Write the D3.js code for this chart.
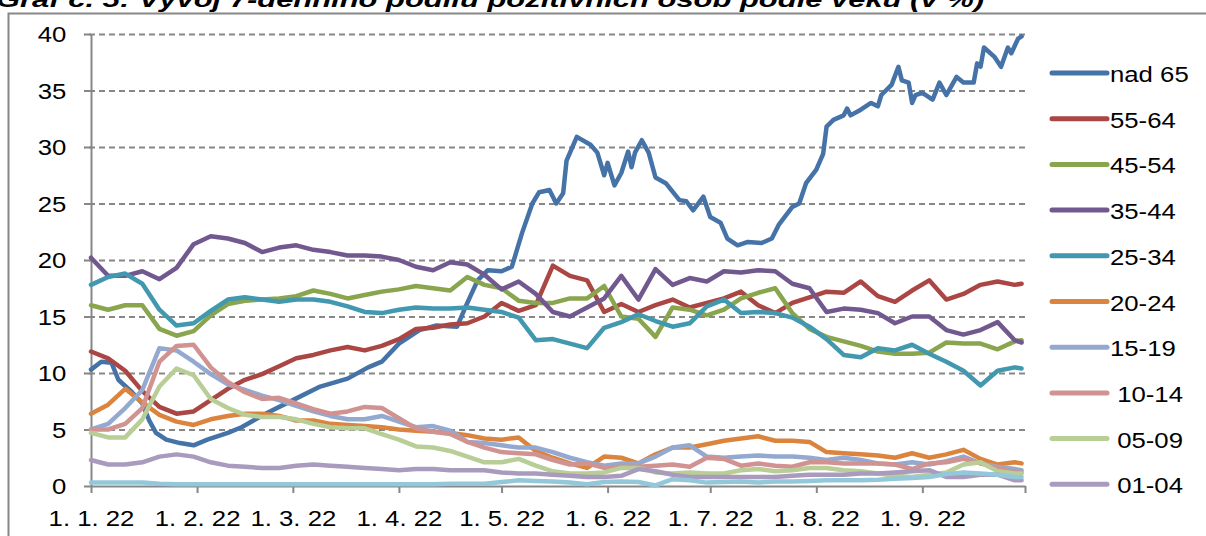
<!DOCTYPE html>
<html>
<head>
<meta charset="utf-8">
<script src="https://cdn.jsdelivr.net/npm/d3@7"></script>
<style>
    body { margin: 0; background: #ffffff; }
    svg { display: block; font-family: "Liberation Sans", Arial, sans-serif; }
</style>
</head>
<body>
<div id="chart"></div>
<script>
// day offsets from 1. 1. 2022 (one point every 5 days)
var days = [ 0, 5, 10, 15, 20, 25, 30, 35, 40, 45,
             50, 55, 60, 65, 70, 75, 80, 85, 90, 95,
             100, 105, 110, 115, 120, 125, 130, 135, 140, 145,
             150, 155, 160, 165, 170, 175, 180, 185, 190, 195,
             200, 205, 210, 215, 220, 225, 230, 235, 240, 245,
             250, 255, 260, 265, 270, 272 ];

// the "nad 65" line is read more densely, it has its own day offsets
var nad65Days = [ 0, 3, 6, 8, 12, 15, 17, 19, 22, 26,
                  30, 34, 40, 44, 51, 59, 67, 75, 81, 85,
                  90, 96, 101, 107, 110, 113, 116, 120, 123, 126,
                  129, 131, 134, 136, 138, 139, 142, 146, 148, 150,
                  151, 153, 155, 157, 158, 159, 161, 163, 165, 168,
                  172, 174, 176, 179, 181, 184, 186, 189, 192, 196,
                  199, 201, 205, 207, 209, 212, 214, 215, 217, 220,
                  221, 222, 225, 228, 230, 231, 234, 236, 237, 239,
                  240, 241, 243, 246, 248, 250, 253, 255, 258, 259,
                  260, 261, 264, 266, 268, 269, 271, 272 ];

// 7-day share of positive persons by age group (%)
var nad65 = [ 10.3, 11.0, 10.9, 9.4, 8.3, 7.3, 5.8, 4.7, 4.1, 3.8,
              3.6, 4.1, 4.7, 5.2, 6.4, 7.6, 8.8, 9.5, 10.5, 11.0,
              12.6, 13.8, 14.2, 14.1, 16.2, 18.2, 19.1, 19.0, 19.4, 22.4,
              25.0, 26.0, 26.2, 25.0, 25.9, 28.8, 30.9, 30.2, 29.5, 27.5,
              28.6, 26.6, 27.7, 29.6, 28.2, 29.5, 30.6, 29.5, 27.3, 26.8,
              25.3, 25.2, 24.4, 25.6, 23.8, 23.3, 21.9, 21.3, 21.6, 21.5,
              21.9, 23.1, 24.7, 25.0, 26.8, 28.0, 29.4, 31.8, 32.4, 32.8,
              33.4, 32.8, 33.3, 33.9, 33.6, 34.6, 35.5, 37.1, 35.9, 35.7,
              33.9, 34.6, 34.8, 34.2, 35.7, 34.6, 36.2, 35.7, 35.7, 37.4,
              37.1, 38.8, 38.0, 37.1, 38.8, 38.3, 39.6, 39.8 ];
var a5564 = [ 11.9, 11.3, 10.2, 8.4, 7.0, 6.4, 6.6, 7.6, 8.6, 9.4,
              9.9, 10.6, 11.3, 11.6, 12.0, 12.3, 12.0, 12.4, 13.0, 13.9,
              14.0, 14.3, 14.4, 15.0, 16.2, 15.5, 16.0, 19.5, 18.6, 18.2,
              15.4, 16.1, 15.4, 16.0, 16.5, 15.8, 16.2, 16.6, 17.2, 16.0,
              15.3, 16.2, 16.7, 17.2, 17.1, 18.1, 16.8, 16.3, 17.3, 18.2,
              16.5, 17.0, 17.8, 18.1, 17.8, 17.9 ];
var a4554 = [ 16.0, 15.6, 16.0, 16.0, 13.9, 13.3, 13.7, 15.1, 16.1, 16.4,
              16.5, 16.6, 16.8, 17.3, 17.0, 16.6, 16.9, 17.2, 17.4, 17.7,
              17.5, 17.3, 18.5, 17.8, 17.5, 16.4, 16.2, 16.2, 16.6, 16.6,
              17.7, 15.0, 14.8, 13.2, 15.8, 15.6, 15.1, 15.6, 16.6, 17.1,
              17.5, 15.3, 13.9, 13.2, 12.8, 12.4, 11.9, 11.7, 11.7, 11.8,
              12.7, 12.6, 12.6, 12.1, 12.8, 12.9 ];
var a3544 = [ 20.2, 18.6, 18.6, 19.0, 18.3, 19.3, 21.4, 22.1, 21.9, 21.5,
              20.7, 21.1, 21.3, 20.9, 20.7, 20.4, 20.4, 20.3, 20.0, 19.4,
              19.1, 19.8, 19.6, 18.7, 17.4, 18.1, 17.0, 15.4, 15.0, 15.8,
              16.6, 18.6, 16.5, 19.2, 17.8, 18.4, 18.1, 19.0, 18.9, 19.1,
              19.0, 17.9, 17.5, 15.4, 15.7, 15.6, 15.3, 14.4, 15.0, 15.0,
              13.8, 13.4, 13.8, 14.5, 12.9, 12.7 ];
var a2534 = [ 17.8, 18.5, 18.8, 17.9, 15.6, 14.2, 14.4, 15.5, 16.5, 16.7,
              16.5, 16.3, 16.5, 16.5, 16.3, 15.9, 15.4, 15.3, 15.6, 15.8,
              15.7, 15.7, 15.8, 15.6, 15.4, 14.9, 12.9, 13.0, 12.6, 12.2,
              14.0, 14.5, 15.2, 14.6, 14.1, 14.4, 15.9, 16.5, 15.3, 15.4,
              15.3, 14.9, 14.1, 13.0, 11.6, 11.4, 12.2, 12.0, 12.5, 11.7,
              11.0, 10.2, 8.9, 10.2, 10.5, 10.4 ];
var a2024 = [ 6.4, 7.2, 8.6, 7.4, 6.3, 5.7, 5.4, 5.9, 6.2, 6.4,
              6.4, 6.2, 5.8, 5.8, 5.5, 5.4, 5.3, 5.2, 5.0, 4.9,
              4.8, 4.7, 4.5, 4.2, 4.1, 4.3, 3.1, 2.5, 2.0, 1.6,
              2.6, 2.5, 2.0, 2.8, 3.4, 3.4, 3.7, 4.0, 4.2, 4.4,
              4.0, 4.0, 3.9, 3.0, 2.9, 2.8, 2.7, 2.5, 2.9, 2.5,
              2.8, 3.2, 2.4, 1.9, 2.1, 2.0 ];
var a1519 = [ 5.0, 5.5, 6.9, 8.5, 12.2, 12.0, 11.0, 9.9, 9.0, 8.5,
              8.0, 7.6, 7.1, 6.6, 6.2, 5.9, 5.9, 6.2, 5.7, 5.2,
              5.3, 4.9, 3.9, 3.8, 3.6, 3.4, 3.4, 3.0, 2.5, 2.1,
              1.8, 2.0, 2.0, 2.6, 3.4, 3.6, 2.6, 2.5, 2.6, 2.7,
              2.6, 2.6, 2.5, 2.3, 2.5, 2.3, 2.0, 1.9, 2.1, 1.9,
              2.2, 2.6, 2.0, 1.7, 1.5, 1.4 ];
var a1014 = [ 5.0, 5.0, 5.5, 6.9, 11.0, 12.4, 12.5, 10.5, 9.2, 8.3,
              7.7, 7.8, 7.3, 6.8, 6.4, 6.6, 7.0, 6.9, 6.0, 5.1,
              4.8, 4.6, 3.9, 3.4, 3.0, 2.9, 2.8, 2.3, 1.9, 2.0,
              1.6, 1.7, 1.7, 1.8, 1.9, 1.7, 2.5, 2.4, 1.8, 2.0,
              1.8, 1.7, 2.1, 2.1, 2.0, 2.0, 2.0, 1.9, 1.5, 2.0,
              2.1, 2.4, 2.0, 1.6, 1.2, 1.2 ];
var a0509 = [ 4.7, 4.3, 4.3, 5.9, 8.8, 10.4, 9.8, 7.7, 6.9, 6.3,
              6.1, 6.1, 5.9, 5.5, 5.2, 5.1, 5.1, 4.6, 4.1, 3.5,
              3.4, 3.1, 2.6, 2.1, 2.1, 2.4, 1.8, 1.3, 1.1, 1.1,
              1.2, 1.6, 1.6, 1.2, 1.1, 1.2, 1.1, 1.1, 1.4, 1.5,
              1.3, 1.4, 1.6, 1.6, 1.4, 1.3, 1.1, 0.9, 0.8, 1.0,
              1.2, 1.9, 2.1, 1.3, 1.1, 1.1 ];
var a0104 = [ 2.3, 1.9, 1.9, 2.1, 2.6, 2.8, 2.6, 2.1, 1.8, 1.7,
              1.6, 1.6, 1.8, 1.9, 1.8, 1.7, 1.6, 1.5, 1.4, 1.5,
              1.5, 1.4, 1.4, 1.4, 1.2, 1.1, 1.1, 1.0, 0.9, 0.8,
              0.8, 0.9, 1.5, 1.3, 1.0, 0.8, 0.8, 0.8, 0.8, 0.8,
              0.8, 0.9, 1.0, 1.0, 1.0, 1.1, 1.1, 1.2, 1.3, 1.4,
              0.8, 0.8, 1.0, 1.0, 0.5, 0.5 ];
// youngest group - its legend entry falls below the visible picture
var a00 = [ 0.3, 0.3, 0.3, 0.3, 0.2, 0.15, 0.15, 0.15, 0.15, 0.15,
            0.15, 0.15, 0.15, 0.15, 0.15, 0.15, 0.15, 0.15, 0.15, 0.15,
            0.15, 0.2, 0.2, 0.2, 0.35, 0.5, 0.45, 0.4, 0.3, 0.15,
            0.35, 0.4, 0.35, 0.05, 0.6, 0.5, 0.3, 0.35, 0.4, 0.3,
            0.4, 0.4, 0.45, 0.5, 0.5, 0.5, 0.55, 0.65, 0.7, 0.8,
            1.05, 1.2, 1.1, 1.0, 0.8, 0.8 ];

var seriesNames = [ "nad 65", "55-64", "45-54", "35-44", "25-34", "20-24", "15-19", " 10-14", " 05-09", " 01-04", "00" ];
var seriesValues = [ nad65, a5564, a4554, a3544, a2534, a2024, a1519, a1014, a0509, a0104, a00 ];
var seriesDays = [ nad65Days, days, days, days, days, days, days, days, days, days, days ];
var seriesColors = [ "#4572A7", "#AA4643", "#89A54E", "#71588F", "#4198AF", "#DB843D",
                     "#93A9CF", "#D19392", "#B9CD96", "#A99BBD", "#92C8D9" ];
var legendCount = 10;

var yTicks = [ 0, 5, 10, 15, 20, 25, 30, 35, 40 ];
var xTickLabels = [ "1. 1. 22", "1. 2. 22", "1. 3. 22", "1. 4. 22", "1. 5. 22",
                    "1. 6. 22", "1. 7. 22", "1. 8. 22", "1. 9. 22", "" ];
var titleText = "Graf č. 5: Vývoj 7-denního podílu pozitivních osob podle věku (v %)";

// dimensions
var W = 1206, H = 536;
var margin = { top: 34, left: 91 },
    width = 934,
    height = 452;
var stretch = 1.17;   // text in the picture is a little wider than Arial

var start = new Date( 2022, 0, 1 );
var toDate = function( d ) { return d3.timeDay.offset( start, d ); };
var tickDates = d3.timeMonth.range( start, new Date( 2022, 9, 2 ) );

var x = d3.scaleTime().domain( [ start, new Date( 2022, 9, 1 ) ] ).range( [ 0, width ] );
var y = d3.scaleLinear().domain( [ 0, 40 ] ).range( [ height, 0 ] );

var svg = d3.select( "#chart" ).append( "svg" )
    .attr( "width", W )
    .attr( "height", H );

// title, only its lower part is inside the picture (as in the original)
svg.append( "text" )
    .attr( "x", -4 )
    .attr( "y", 7 )
    .attr( "textLength", 988 )
    .attr( "lengthAdjust", "spacingAndGlyphs" )
    .style( "font-size", "22px" )
    .style( "font-weight", "bold" )
    .style( "font-style", "italic" )
    .style( "fill", "#000" )
    .text( titleText );

// outer frame
svg.append( "path" )
    .attr( "d", "M8.5," + H + "V13.5H" + W )
    .attr( "fill", "none" )
    .attr( "stroke", "#878787" )
    .attr( "stroke-width", 2 );

var g = svg.append( "g" )
    .attr( "transform", "translate(" + margin.left + "," + margin.top + ")" );

// dashed gridlines
var grid = g.append( "g" )
    .attr( "transform", "translate(" + width + ",0)" )
    .call( d3.axisLeft( y ).tickValues( yTicks.slice( 1 ) ).tickSize( width + 7 ).tickFormat( "" ) );
grid.select( ".domain" ).remove();
grid.selectAll( "line" )
    .attr( "stroke", "#878787" )
    .attr( "stroke-width", 2 )
    .attr( "stroke-dasharray", "6,4" );

// y axis
var yAxis = g.append( "g" )
    .call( d3.axisLeft( y ).tickValues( yTicks ).tickSize( 7 ).tickSizeOuter( 0 ) );
yAxis.select( ".domain" ).attr( "stroke", "#878787" ).attr( "stroke-width", 2 );
yAxis.selectAll( "line" ).attr( "stroke", "#878787" ).attr( "stroke-width", 2 );
yAxis.selectAll( "text" )
    .attr( "x", -21 )
    .attr( "dy", "0.35em" )
    .attr( "transform", "scale(" + stretch + ",1)" )
    .style( "font-size", "22px" )
    .style( "fill", "#000" );

// x axis
var xAxis = g.append( "g" )
    .attr( "transform", "translate(0," + height + ")" )
    .call( d3.axisBottom( x ).tickValues( tickDates ).tickSize( 7 ).tickSizeOuter( 0 )
        .tickFormat( function( d, i ) { return xTickLabels[ i ]; } ) );
xAxis.select( ".domain" ).attr( "stroke", "#878787" ).attr( "stroke-width", 2 );
xAxis.selectAll( "line" ).attr( "stroke", "#878787" ).attr( "stroke-width", 2 );
xAxis.selectAll( "text" )
    .attr( "y", 24 )
    .attr( "dy", "0.71em" )
    .attr( "transform", "scale(" + stretch + ",1)" )
    .style( "font-size", "22px" )
    .style( "fill", "#000" );

// the lines
g.selectAll( ".series" )
    .data( seriesValues )
    .enter().append( "path" )
    .attr( "class", "series" )
    .attr( "d", function( vals, s ) {
        return d3.line()
            .x( function( d, i ) { return x( toDate( seriesDays[ s ][ i ] ) ); } )
            .y( function( d ) { return y( d ); } )( vals );
    })
    .attr( "fill", "none" )
    .attr( "stroke", function( d, i ) { return seriesColors[ i ]; } )
    .attr( "stroke-width", 4.5 )
    .attr( "stroke-linejoin", "round" )
    .attr( "stroke-linecap", "round" );

// legend
var legend = svg.append( "g" );
var item = legend.selectAll( ".item" )
    .data( seriesNames.slice( 0, legendCount ) )
    .enter().append( "g" )
    .attr( "class", "item" )
    .attr( "transform", function( d, i ) { return "translate(1052," + ( 73 + i * 45.7 ) + ")"; } );

item.append( "line" )
    .attr( "x1", 0 ).attr( "x2", 55 )
    .attr( "stroke", function( d, i ) { return seriesColors[ i ]; } )
    .attr( "stroke-width", 5 )
    .attr( "stroke-linecap", "round" );

item.append( "text" )
    .attr( "transform", "translate(58,9) scale(" + stretch + ",1)" )
    .style( "font-size", "22px" )
    .style( "white-space", "pre" )
    .style( "fill", "#000" )
    .text( function( d ) { return d; } );
</script>
</body>
</html>
